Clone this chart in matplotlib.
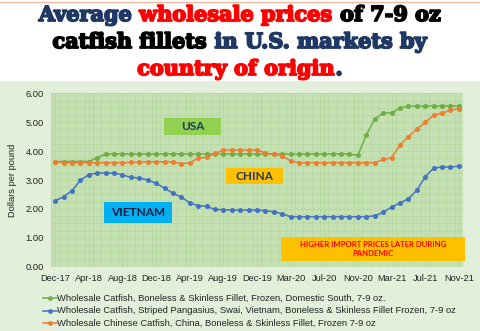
import numpy as np
import matplotlib
matplotlib.use("Agg")
import matplotlib.pyplot as plt
import matplotlib.patheffects as pe
from matplotlib.patches import Rectangle
from matplotlib.lines import Line2D

# tick labels shown every 4th category
tick_labels = ["Dec-17", "Apr-18", "Aug-18", "Dec-18", "Apr-19", "Aug-19", "Dec-19",
               "Mar-20", "Jul-20", "Nov-20", "Mar-21", "Jul-21", "Nov-21"]

usa = [3.63, 3.64, 3.64, 3.64, 3.64, 3.77, 3.90, 3.90, 3.90, 3.90,
       3.90, 3.90, 3.90, 3.90, 3.90, 3.90, 3.90, 3.90, 3.90, 3.90,
       3.90, 3.90, 3.90, 3.90, 3.90, 3.90, 3.90, 3.90, 3.90, 3.90,
       3.90, 3.90, 3.90, 3.90, 3.90, 3.90, 3.85, 4.56, 5.11, 5.31,
       5.33, 5.48, 5.56, 5.56, 5.56, 5.56, 5.56, 5.56, 5.56]

vietnam = [2.28, 2.42, 2.63, 2.99, 3.19, 3.24, 3.24, 3.24, 3.18, 3.09,
           3.07, 3.00, 2.88, 2.72, 2.54, 2.41, 2.21, 2.11, 2.09, 1.98,
           1.97, 1.96, 1.96, 1.96, 1.96, 1.94, 1.90, 1.83, 1.73, 1.73,
           1.73, 1.73, 1.73, 1.73, 1.73, 1.73, 1.73, 1.73, 1.76, 1.88,
           2.06, 2.20, 2.35, 2.64, 3.11, 3.41, 3.45, 3.45, 3.48]

china = [3.63, 3.60, 3.60, 3.60, 3.60, 3.60, 3.60, 3.60, 3.60, 3.61,
         3.62, 3.63, 3.63, 3.63, 3.62, 3.57, 3.59, 3.76, 3.78, 3.92,
         4.03, 4.04, 4.04, 4.04, 4.04, 3.93, 3.89, 3.84, 3.66, 3.60,
         3.60, 3.60, 3.60, 3.60, 3.60, 3.60, 3.60, 3.60, 3.60, 3.71,
         3.77, 4.21, 4.50, 4.75, 4.99, 5.24, 5.31, 5.42, 5.47]

series_names = ["Wholesale Catfish, Boneless & Skinless Fillet, Frozen, Domestic South, 7-9 oz.",
                "Wholesale Catfish, Striped Pangasius, Swai, Vietnam, Boneless & Skinless Fillet Frozen, 7-9 oz",
                "Wholesale Chinese Catfish, China, Boneless & Skinless Fillet, Frozen 7-9 oz"]
series_colors = ["#70ad47", "#4472c4", "#ed7d31"]

W, H = 480, 331
NAVY = "#1f3864"
fig = plt.figure(figsize=(4.8, 3.31), dpi=100)
fig.patch.set_facecolor("white")

def fx(px):
    return px / W

def fy(py):
    return 1 - py / H

# chart area background + thin top line
fig.add_artist(Rectangle((0, 0), 1, fy(80.5), transform=fig.transFigure,
                         facecolor="#e2efda", edgecolor="none", zorder=-10))
fig.add_artist(Line2D([0, 1], [fy(2), fy(2)], transform=fig.transFigure,
                      color="#f4b8a0", lw=1))

ax = fig.add_axes([fx(51), fy(266.7), fx(412), 173.4 / H])
ax.set_facecolor("#c5e0b3")
for s in ax.spines.values():
    s.set_visible(False)

x = np.arange(len(usa))
for vals, c in zip([usa, vietnam, china], series_colors):
    ax.plot(x, vals, color=c, lw=1.1, marker="o", ms=2.6, zorder=3)

ax.set_xlim(-0.5, len(usa) - 0.5)
ax.set_ylim(0, 6)
ax.set_xticks(x[::4])
ax.set_xticklabels(tick_labels, fontsize=6.7, family="Liberation Sans")
ax.set_yticks(np.arange(0, 7, 1))
ax.set_yticklabels(["%.2f" % v for v in np.arange(0, 7, 1)], fontsize=6.7,
                   family="Liberation Sans")
ax.tick_params(length=0, pad=5, colors="#222222")
ax.set_xticks(np.arange(-0.5, len(usa), 1), minor=True)
ax.set_yticks(np.arange(0, 6.01, 0.25), minor=True)
ax.tick_params(which="minor", length=0)
ax.grid(which="both", color="#b5d89f", lw=0.6, zorder=0)
ax.set_axisbelow(True)
ax.set_ylabel("Dollars per pound", fontsize=6.7, family="Liberation Sans",
              color="#222222", labelpad=6)

# legend
for i, (name, c) in enumerate(zip(series_names, series_colors)):
    yy = fy(298 + i * 12.6)
    fig.add_artist(Line2D([fx(43), fx(57)], [yy, yy], transform=fig.transFigure,
                          color=c, lw=1.1))
    fig.add_artist(Line2D([fx(50)], [yy], transform=fig.transFigure,
                          color=c, marker="o", ms=2.4))
    fig.text(fx(57), yy, name, fontsize=6.75, family="Liberation Sans",
             color="#222222", va="center", ha="left")

# label boxes
def label_box(x0, y0, x1, y1, face, text, color, size):
    fig.add_artist(Rectangle((fx(x0), fy(y1)), fx(x1 - x0), (y1 - y0) / H,
                             transform=fig.transFigure, facecolor=face,
                             edgecolor="none", zorder=5))
    fig.text(fx((x0 + x1) / 2), fy((y0 + y1) / 2), text, ha="center", va="center",
             fontsize=size, color=color, family="Lato", weight="bold",
             zorder=6, linespacing=1.2)

label_box(164, 118, 221, 135, "#92d050", "USA", NAVY, 8.5)
label_box(226, 168, 283, 184, "#ffc000", "CHINA", NAVY, 8.5)
label_box(104, 202, 172, 223, "#00b0f0", "VIETNAM", "#0d1b3e", 8.5)
label_box(281, 237, 465, 261, "#ffc000", "HIGHER IMPORT PRICES LATER DURING\nPANDEMIC",
          "#ff0000", 5.6)

# multi-coloured title
title_lines = [
    [("Average ", NAVY), ("wholesale prices", "#ff0000"), (" of 7-9 oz", "black")],
    [("catfish fillets", "black"), (" in U.S. markets by", NAVY)],
    [("country of origin", "#ff0000"), (".", NAVY)],
]
title_y = [15, 42, 69]

fig.canvas.draw()
renderer = fig.canvas.get_renderer()
for parts, py in zip(title_lines, title_y):
    texts = []
    for s, c in parts:
        t = fig.text(0, fy(py), s, color=c, fontsize=15, family="DejaVu Serif",
                     weight="bold", va="center", ha="left",
                     path_effects=[pe.withStroke(linewidth=1.3, foreground=c)])
        texts.append(t)
    widths = [t.get_window_extent(renderer).width for t in texts]
    xpos = (W - sum(widths)) / 2
    for t, w in zip(texts, widths):
        t.set_x(fx(xpos))
        xpos += w

fig.savefig("out.png", dpi=100)
